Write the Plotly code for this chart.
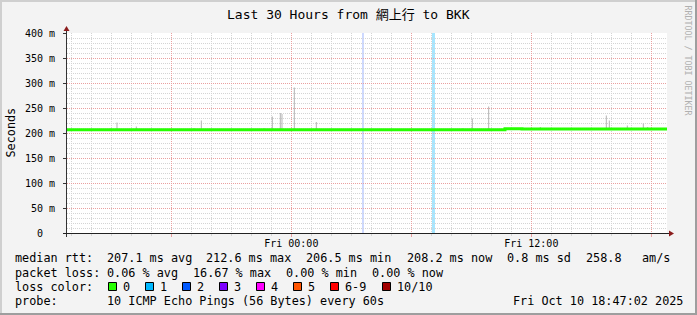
import plotly.graph_objects as go

# ---------------- data ----------------
title_text = "Last 30 Hours from 網上行 to BKK"
x_start = "2025-10-09 12:47:02"
x_end = "2025-10-10 18:47:02"

# median rtt (ms), step series
median_times = ["2025-10-09 12:47:02", "2025-10-10 10:41:00", "2025-10-10 11:32:00", "2025-10-10 18:47:02"]
median_values = [206.5, 208.4, 208.0, 208.0]

# smoke spikes (ms): time and top value
spike_times = ["2025-10-09 14:59", "2025-10-09 15:17", "2025-10-09 16:15", "2025-10-09 19:08",
               "2025-10-09 19:30", "2025-10-09 22:38", "2025-10-09 23:03", "2025-10-09 23:27",
               "2025-10-09 23:32", "2025-10-10 00:09", "2025-10-10 01:15", "2025-10-10 05:01",
               "2025-10-10 08:35", "2025-10-10 09:03", "2025-10-10 09:52", "2025-10-10 12:27",
               "2025-10-10 15:45", "2025-10-10 15:54", "2025-10-10 16:48", "2025-10-10 17:36",
               "2025-10-10 17:49"]
spike_tops = [210, 221, 213, 210, 225, 210, 233, 240, 238, 291, 222, 209, 210, 229, 253, 212,
              235, 225, 215, 219, 212]
spike_base = 206.0

# loss events (vertical lines / bands)
loss_line_time = "2025-10-10 03:35"
loss_line_color = "rgba(40,90,255,0.38)"
loss_band_start = "2025-10-10 07:02"
loss_band_end = "2025-10-10 07:11"
loss_band_color = "rgba(0,184,255,0.35)"

# y ticks
y_tickvals = [0, 50, 100, 150, 200, 250, 300, 350, 400]
y_ticktext = ["0  ", "50 m", "100 m", "150 m", "200 m", "250 m", "300 m", "350 m", "400 m"]

# x ticks (major grid every 6h, labels every 12h)
x_tickvals = ["2025-10-09 18:00", "2025-10-10 00:00", "2025-10-10 06:00", "2025-10-10 12:00", "2025-10-10 18:00"]
x_ticktext = ["", "Fri 00:00", "", "Fri 12:00", ""]

# legend
legend_line1 = [("median rtt:", 15), ("207.1 ms avg", 106.5), ("212.6 ms max", 206), ("206.5 ms min", 305.5),
                ("208.2 ms now", 406.5), ("0.8 ms sd", 506.5), ("258.8", 586), ("am/s", 641.5)]
legend_line2 = [("packet loss:", 15), ("0.06 % avg", 106.5), ("16.67 % max", 192.5), ("0.00 % min", 286),
                ("0.00 % now", 372)]
loss_labels = ["0", "1", "2", "3", "4", "5", "6-9", "10/10"]
loss_colors = ["#26ff00", "#00b8ff", "#0059ff", "#7e00ff", "#ff00ff", "#ff5500", "#ff0000", "#a10000"]
loss_box_x = [108, 145, 182, 219, 256, 293, 330, 382]
legend_line4 = [("probe:", 15), ("10 ICMP Echo Pings (56 Bytes) every 60s", 106.5),
                ("Fri Oct 10 18:47:02 2025", 512.5)]

# ---------------- layout geometry ----------------
W, H = 697, 315
L, R, T, B = 67, 667, 33, 233
PW, PH = R - L, B - T


def px(x):
    return (x - L) / PW


def py(y):
    return (B - y) / PH


MONO = "DejaVu Sans Mono, Noto Sans CJK TC, monospace"

fig = go.Figure()

# smoke spikes
sx, sy = [], []
for t, top in zip(spike_times, spike_tops):
    sx += [t, t, None]
    sy += [spike_base, top, None]
fig.add_trace(go.Scatter(x=sx, y=sy, mode="lines", line=dict(color="#b4b4b4", width=1),
                         hoverinfo="skip", showlegend=False))

# median
fig.add_trace(go.Scatter(x=median_times, y=median_values, mode="lines", line_shape="hv",
                         line=dict(color=loss_colors[0], width=3), showlegend=False))

shapes = []
# loss marks
shapes.append(dict(type="line", xref="x", yref="paper", x0=loss_line_time, x1=loss_line_time, y0=0, y1=1,
                   line=dict(color=loss_line_color, width=1.2), layer="below"))
shapes.append(dict(type="rect", xref="x", yref="paper", x0=loss_band_start, x1=loss_band_end, y0=0, y1=1,
                   fillcolor=loss_band_color, line=dict(width=0), layer="below"))

# border
shapes += [
    dict(type="rect", xref="paper", yref="paper", x0=px(0), x1=px(W), y0=py(0), y1=py(2),
         fillcolor="#cfcfcf", line=dict(width=0), layer="below"),
    dict(type="rect", xref="paper", yref="paper", x0=px(0), x1=px(2), y0=py(0), y1=py(H),
         fillcolor="#cfcfcf", line=dict(width=0), layer="below"),
    dict(type="rect", xref="paper", yref="paper", x0=px(W - 2), x1=px(W), y0=py(0), y1=py(H),
         fillcolor="#9e9e9e", line=dict(width=0), layer="below"),
    dict(type="rect", xref="paper", yref="paper", x0=px(0), x1=px(W), y0=py(H - 2), y1=py(H),
         fillcolor="#9e9e9e", line=dict(width=0), layer="below"),
]
# axis lines
shapes += [
    dict(type="line", xref="paper", yref="paper", x0=px(66.5), x1=px(66.5), y0=py(237), y1=py(28),
         line=dict(color="#333333", width=1)),
    dict(type="line", xref="paper", yref="paper", x0=px(63), x1=px(670), y0=py(233.5), y1=py(233.5),
         line=dict(color="#222222", width=1)),
    # arrows
    dict(type="path", xref="paper", yref="paper",
         path=f"M {px(63.5)} {py(31)} L {px(69.5)} {py(31)} L {px(66.5)} {py(26)} Z",
         fillcolor="#8b1c1c", line=dict(width=0)),
    dict(type="path", xref="paper", yref="paper",
         path=f"M {px(669)} {py(230.5)} L {px(669)} {py(236.5)} L {px(674)} {py(233.5)} Z",
         fillcolor="#8b1c1c", line=dict(width=0)),
]
# legend boxes
for bx, col in zip(loss_box_x, loss_colors):
    shapes.append(dict(type="rect", xref="paper", yref="paper", x0=px(bx + 0.5), x1=px(bx + 8.5),
                       y0=py(282.5), y1=py(290.5), fillcolor=col, line=dict(color="#000000", width=1)))

annotations = []


def ann(text, x, y, size, xanchor="left", color="#000000", angle=0):
    annotations.append(dict(text=text.replace(" ", "\u00a0"), x=px(x), y=py(y), xref="paper", yref="paper",
                            xanchor=xanchor, yanchor="middle", showarrow=False, textangle=angle,
                            font=dict(family=MONO, size=size, color=color), borderpad=0, borderwidth=0))


ann(title_text, 348.5, 15, 13, xanchor="center")
ann("Seconds", 10, 132.5, 11.8, xanchor="center", angle=-90)
ann("RRDTOOL / TOBI OETIKER", 687.5, 60, 8.3, xanchor="center", color="#b0b0b0", angle=90)

LS = 11.8
for txt, x in legend_line1:
    ann(txt, x, 258.3, LS)
for txt, x in legend_line2:
    ann(txt, x, 272.7, LS)
ann("loss color:", 15, 286.7, LS)
for lab, bx in zip(loss_labels, loss_box_x):
    ann(lab, bx + 14.5, 286.7, LS)
for txt, x in legend_line4:
    ann(txt, x, 301, LS)

fig.update_layout(
    width=W, height=H,
    margin=dict(l=L, r=W - R, t=T, b=H - B, pad=0, autoexpand=False),
    paper_bgcolor="#f3f3f3", plot_bgcolor="#ffffff",
    showlegend=False,
    shapes=shapes, annotations=annotations,
    xaxis=dict(type="date", range=[x_start, x_end], tickmode="array", tickvals=x_tickvals,
               ticktext=x_ticktext, showgrid=True, gridcolor="#eaa0a0", griddash="1px,1px", gridwidth=1,
               ticks="outside", ticklen=3, tickcolor="#eaa0a0", showline=False, zeroline=False,
               ticklabelstandoff=-2,
               tickfont=dict(family=MONO, size=10, color="#000000"), automargin=False,
               minor=dict(dtick=3600000, tick0="2025-10-09 13:00", showgrid=True, gridcolor="#d4d4d4",
                          griddash="1px,1px", gridwidth=1, ticks="outside", ticklen=2, tickcolor="#d4d4d4")),
    yaxis=dict(range=[0, 400], tickmode="array", tickvals=y_tickvals, ticktext=y_ticktext,
               showgrid=True, gridcolor="#eaa0a0", griddash="1px,1px", gridwidth=1,
               ticks="outside", ticklen=3, tickcolor="#333333", showline=False, zeroline=False,
               ticklabelstandoff=6,
               tickfont=dict(family=MONO, size=10, color="#000000"), automargin=False,
               minor=dict(dtick=10, showgrid=True, gridcolor="#d4d4d4", griddash="1px,1px", gridwidth=1)),
)

fig.write_html("out.html")
